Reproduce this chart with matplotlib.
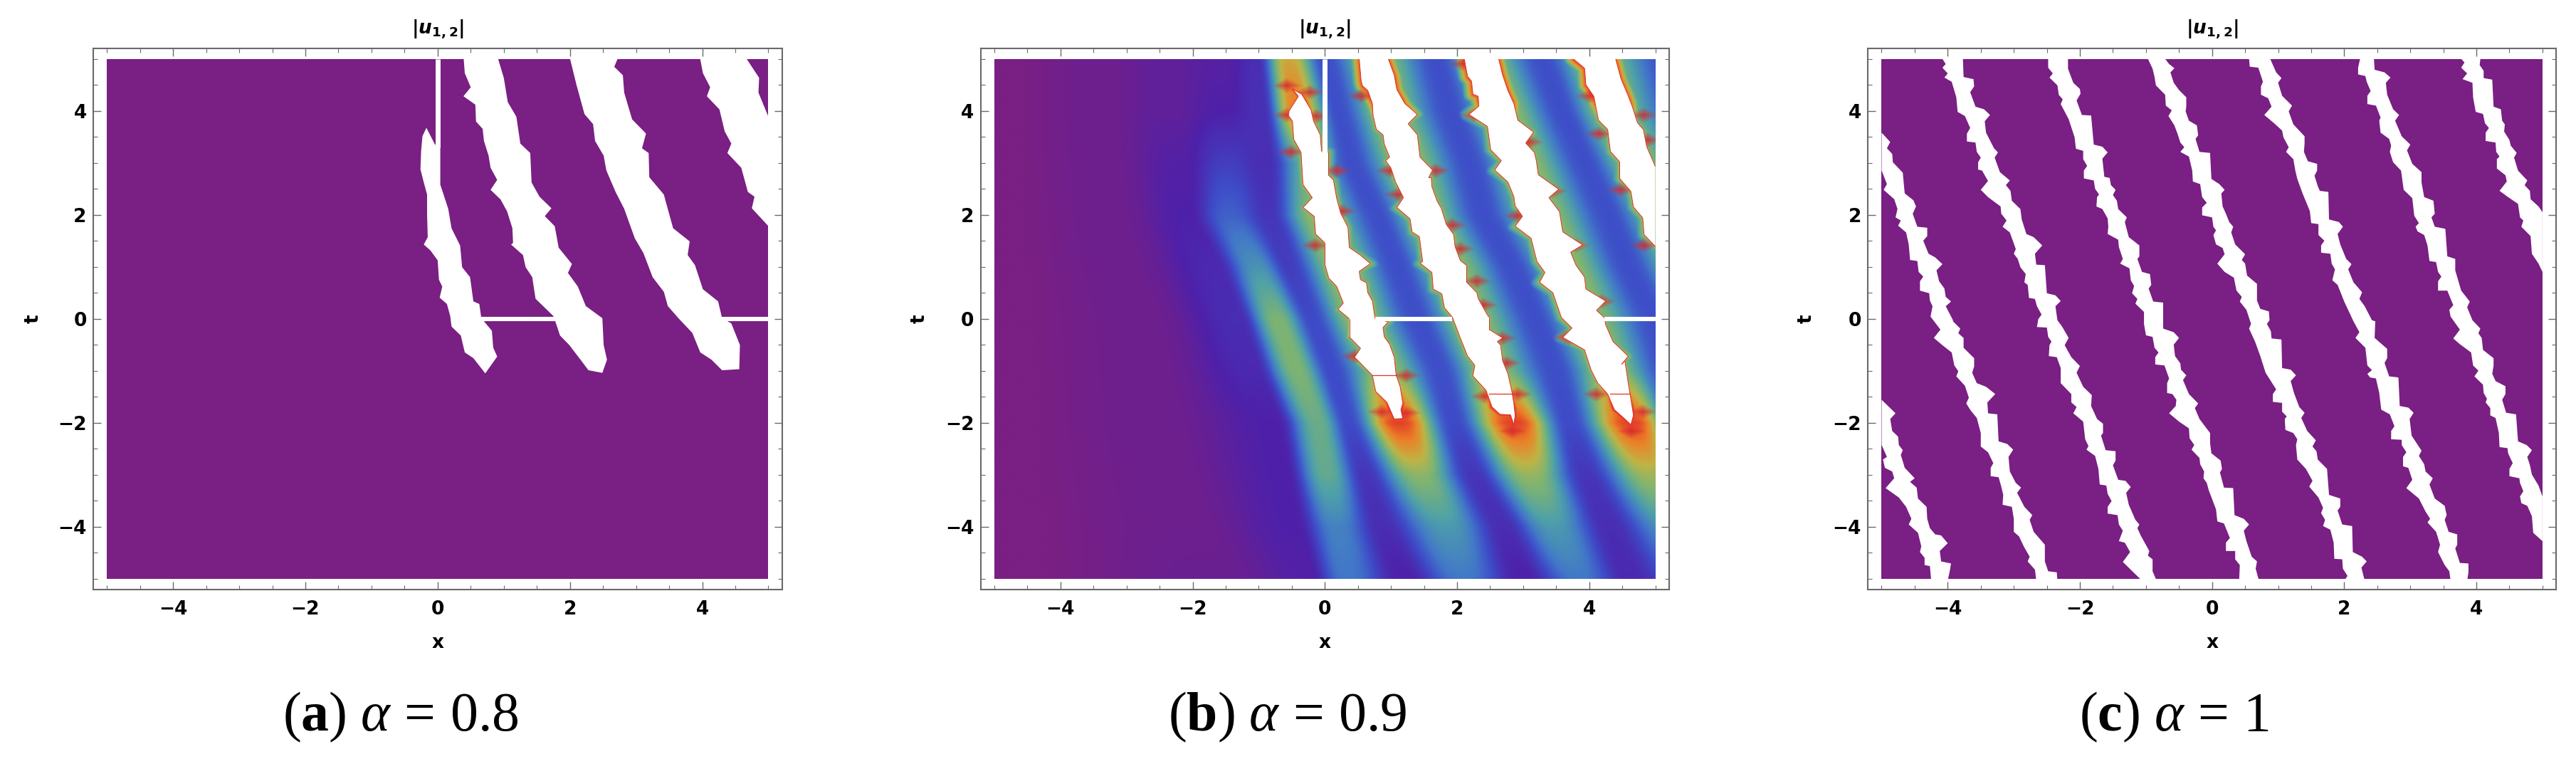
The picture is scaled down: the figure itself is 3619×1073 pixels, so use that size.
import numpy as np
import matplotlib
matplotlib.use("Agg")
import matplotlib.pyplot as plt
from matplotlib.collections import LineCollection
from matplotlib.colors import LinearSegmentedColormap
from matplotlib.patches import Rectangle
from matplotlib.ticker import MultipleLocator

plt.rcParams['mathtext.fontset'] = 'custom'
plt.rcParams['mathtext.rm'] = 'Liberation Serif'
plt.rcParams['mathtext.it'] = 'Liberation Serif:italic'
plt.rcParams['mathtext.bf'] = 'Liberation Serif:bold'

W, H = 3619, 1073
DOMAIN = 5.0
PURPLE = '#7a1f83'
RED = '#e0302a'
TITLE = r'$\mathbf{|}\mathbfit{u}_{\mathbf{1,2}}\mathbf{|}$'
captions = [r'$\mathrm{(}\mathbf{a}\mathrm{)}\ \alpha\,=\,0.8$',
            r'$\mathrm{(}\mathbf{b}\mathrm{)}\ \alpha\,=\,0.9$',
            r'$\mathrm{(}\mathbf{c}\mathrm{)}\ \alpha\,=\,1$']

# ---------- panel a: blown-up regions (x, t) ----------
a1 = [(-.17,3.63),(-.23,3.47),(-.25,3.19),(-.26,2.84),(-.22,2.64),(-.16,2.36),(-.16,1.99),(-.15,1.55),(-.21,1.41),(-.11,1.30),(0,1.11),(.02,.74),(.07,.61),(.03,.40),(.14,.28),(.19,.05),(.21,-.15),(.35,-.32),(.41,-.64),(.54,-.75),(.72,-1.04),(.90,-.72),(.84,-.55),(.82,-.23),(.66,.01),(.63,.28),(.54,.33),(.49,.79),(.37,.98),(.34,1.39),(.21,1.72),(.16,2.09),(.10,2.32),(.04,2.55),(.04,3.29),(-.04,3.31)]
a2 = [(.39,5),(.41,4.67),(.44,4.58),(.50,4.40),(.39,4.23),(.57,4.07),(.58,3.75),(.68,3.61),(.70,3.38),(.77,3.10),(.80,2.87),(.90,2.64),(.80,2.45),(.95,2.27),(1.05,2.04),(1.13,1.72),(1.14,1.44),(1.11,1.41),(1.29,1.21),(1.33,.98),(1.43,.79),(1.48,.38),(1.75,.05),(1.80,-.13),(1.85,-.32),(1.99,-.50),(2.16,-.78),(2.28,-.98),(2.49,-1.03),(2.56,-.78),(2.51,-.50),(2.49,.01),(2.24,.24),(2.12,.61),(1.97,.87),(2.03,1.04),(1.83,1.35),(1.77,1.76),(1.62,1.95),(1.72,2.10),(1.54,2.32),(1.42,2.59),(1.40,3.15),(1.25,3.33),(1.19,3.84),(1.06,4.12),(1.00,4.58),(.90,5)]
a3 = [(1.99,5),(2.10,4.44),(2.22,3.89),(2.35,3.70),(2.38,3.38),(2.51,3.10),(2.55,2.82),(2.69,2.41),(2.82,2.09),(2.98,1.53),(3.11,1.25),(3.25,.79),(3.42,.51),(3.48,.24),(3.64,.01),(3.85,-.27),(3.97,-.64),(4.14,-.78),(4.30,-.98),(4.56,-.96),(4.57,-.50),(4.44,-.09),(4.30,.01),(4.24,.33),(4.01,.56),(3.89,1.02),(3.78,1.21),(3.81,1.47),(3.56,1.72),(3.45,2.22),(3.42,2.36),(3.20,2.69),(3.19,3.15),(3.09,3.24),(3.15,3.52),(2.94,3.79),(2.82,4.30),(2.80,4.63),(2.67,4.79),(2.74,5)]
a4 = [(3.96,5),(4.01,4.67),(4.12,4.40),(4.07,4.23),(4.26,3.98),(4.34,3.56),(4.44,3.33),(4.38,3.15),(4.59,2.87),(4.69,2.41),(4.79,2.32),(4.75,2.10),(5,1.76),(5,3.84),(4.85,4.30),(4.86,4.58),(4.64,5)]
a_t_scale = 1.012
a_vline = (0.0, 3.3, 5.0)
a_hlines = [(.66, 1.78), (4.30, 5.0)]

# ---------- panel b: blown-up regions (x, t) ----------
b1 = [(-.49,4.42),(-.40,4.28),(-.54,4.00),(-.55,3.91),(-.49,3.80),(-.47,3.45),(-.36,3.20),(-.33,2.58),(-.19,2.33),(-.33,2.14),(-.16,1.97),(-.14,1.63),(0,1.46),(0,1.05),(.06,.78),(.18,.62),(.28,.30),(.20,.18),(.37,0),(.37,-.35),(.54,-.57),(.45,-.74),(.72,-1.09),(.77,-1.40),(.94,-1.61),(1.05,-1.93),(1.18,-1.92),(1.15,-1.75),(1.18,-1.63),(1.14,-1.31),(1.08,-1.09),(1.05,-.74),(.98,-.49),(.90,-.35),(.88,-.17),(.96,-.06),(.76,0),(.72,.34),(.65,.50),(.63,.69),(.54,.75),(.52,.91),(.69,1.06),(.53,1.23),(.37,1.37),(.35,1.76),(.24,2.03),(.18,2.31),(.13,2.67),(.05,2.77),(.05,3.22),(-.05,3.22),(-.07,3.54),(-.17,3.80),(-.21,4.02),(-.35,4.32)]
b2 = [(.52,5),(.55,4.57),(.57,4.48),(.65,4.39),(.72,4.14),(.73,3.91),(.78,3.64),(.88,3.54),(.90,3.36),(.98,3.11),(.92,3.04),(1.00,2.90),(1.07,2.63),(1.19,2.33),(1.09,2.14),(1.29,1.92),(1.32,1.67),(1.43,1.58),(1.48,1.10),(1.44,1.07),(1.62,.89),(1.64,.57),(1.77,.48),(1.81,.21),(1.93,.03),(1.96,-.07),(2.05,-.37),(2.16,-.72),(2.27,-.90),(2.24,-1.10),(2.44,-1.38),(2.53,-1.70),(2.65,-1.84),(2.81,-1.85),(2.86,-2.04),(2.88,-1.86),(2.86,-1.63),(2.83,-1.40),(2.77,-1.06),(2.69,-.81),(2.66,-.51),(2.61,-.44),(2.69,-.37),(2.49,-.21),(2.49,.02),(2.46,.07),(2.32,.39),(2.30,.50),(2.14,.71),(2.14,1.03),(2.05,1.12),(1.97,1.39),(1.95,1.62),(1.84,1.81),(1.76,2.13),(1.70,2.26),(1.62,2.54),(1.61,2.72),(1.57,2.71),(1.63,2.86),(1.44,3.11),(1.40,3.54),(1.26,3.75),(1.40,3.93),(1.21,4.14),(1.09,4.41),(1.05,4.69),(.96,5)]
b3 = [(2.11,5),(2.16,4.66),(2.22,4.57),(2.24,4.32),(2.32,4.28),(2.33,4.09),(2.18,3.93),(2.46,3.70),(2.51,3.25),(2.67,3.04),(2.57,2.86),(2.77,2.63),(2.86,2.35),(2.88,2.17),(2.99,1.97),(2.88,1.78),(3.12,1.55),(3.21,1.10),(3.33,.89),(3.25,.70),(3.45,.50),(3.58,.02),(3.74,-.18),(3.60,-.36),(3.93,-.60),(4.03,-.99),(4.13,-1.24),(4.28,-1.45),(4.38,-1.75),(4.54,-1.93),(4.63,-2.04),(4.67,-1.86),(4.63,-1.54),(4.60,-1.31),(4.54,-.81),(4.49,-.88),(4.59,-.72),(4.36,-.44),(4.25,-.12),(4.23,.02),(4.11,.16),(4.25,.34),(3.95,.57),(3.93,.80),(3.80,1.03),(3.72,1.28),(3.90,1.42),(3.60,1.67),(3.55,2.06),(3.39,2.33),(3.54,2.49),(3.23,2.77),(3.20,3.04),(3.17,3.20),(3.04,3.38),(3.16,3.59),(2.92,3.82),(2.86,4.14),(2.77,4.39),(2.69,4.69),(2.63,5)]
b4 = [(3.76,5),(3.93,4.82),(3.95,4.50),(4.07,4.28),(4.14,3.82),(4.28,3.64),(4.32,3.22),(4.46,3.02),(4.46,2.70),(4.63,2.45),(4.67,2.15),(4.81,1.94),(4.83,1.62),(5,1.39),(5,2.93),(4.87,3.31),(4.82,3.64),(4.73,3.77),(4.65,4.09),(4.58,4.32),(4.48,4.62),(4.40,5)]
b_vline = (0.0, 3.2, 5.0)
b_hlines = [(.76, 1.93), (4.23, 5.0)]
b_red_lines = [(.72, 1.08, -1.09), (2.49, 2.84, -1.45), (4.32, 4.61, -1.45)]

# panel b: field rows read across the picture
b_rows_t = [5, 4, 3, 2, 1, 0, -1, -2, -3, -4, -5]
b_knot_x = [
    [-5,-3.4,-2.4,-1.6,-1.05,-.55,0,.75,1.7,2.37,3.3,4.08,5.2],
    [-5,-3.4,-2.4,-1.5,-.95,-.42,.2,.95,1.9,2.7,3.6,4.3,5.4],
    [-5,-3.3,-2.2,-1.5,-.9,-.2,.4,1.25,2.2,3.0,3.95,4.7,5.7],
    [-5,-3.2,-2.1,-1.45,-.85,-.1,.8,1.5,2.4,3.3,4.3,5.1,6],
    [-5,-3,-1.65,-1.02,-.55,.25,1.1,1.9,2.85,3.65,4.6,5.5,6.3],
    [-5,-2.7,-1.3,-.72,-.2,.5,1.4,2.2,3.2,3.95,5,5.9,6.6],
    [-5,-2.6,-1.05,-.42,.1,.9,1.75,2.5,3.5,4.3,5.2,6.1,6.8],
    [-5,-2.5,-.75,-.1,.35,1.12,1.95,2.87,3.7,4.65,5.4,6.3,7],
    [-5,-2.3,-.6,.03,.6,1.43,2.25,3.1,3.95,4.95,5.6,6.4,7.2],
    [-5,-2,-.45,.18,.85,1.85,2.7,3.45,4.3,5.3,6,6.7,7.4],
    [-5,-1.5,-.25,.33,1.2,2.1,3.0,3.85,4.6,5.7,6.3,7,8],
]
b_knot_v = [
    [0,.03,.06,.08,.13,.72,.21,.6,.21,.6,.21,.6,.21],
    [0,.03,.06,.1,.14,.85,.21,.6,.21,.6,.21,.6,.21],
    [0,.03,.09,.17,.13,.5,.21,.6,.21,.6,.21,.6,.21],
    [0,.03,.1,.25,.15,.6,.21,.6,.21,.6,.21,.6,.21],
    [0,.03,.12,.38,.17,.6,.21,.6,.21,.6,.21,.6,.21],
    [0,.03,.13,.55,.2,.6,.21,.6,.21,.6,.21,.6,.21],
    [0,.03,.12,.55,.2,.6,.21,.6,.21,.6,.21,.6,.21],
    [0,.03,.1,.5,.2,.95,.2,.95,.2,.95,.2,.6,.2],
    [0,.03,.1,.48,.15,.58,.15,.6,.15,.62,.2,.5,.2],
    [0,.03,.1,.33,.13,.4,.13,.4,.13,.4,.2,.3,.2],
    [0,.04,.09,.3,.1,.3,.1,.3,.12,.3,.2,.2,.2],
]
b_spikes = [(-.58,4.5),(-.23,4.37),(-.58,3.93),(-.13,3.91),(-.52,3.22),(-.15,1.42),(.55,4.30),(.18,2.86),(.26,2.08),(.98,2.86),(1.11,2.40),(1.93,1.81),(2.05,1.35),(1.68,2.86),(2.26,3.93),(2.09,4.92),(2.30,.73),(2.40,.27),(2.69,-.37),(2.92,1.99),(3.70,-.37),(3.45,2.47),(3.80,1.42),(4.19,.34),(3.09,3.41),(4.48,2.49),(4.83,1.42),(4.83,3.93),(4.89,3.45),(4.01,4.30),(4.15,3.57),(1.23,-1.09),(.86,-1.79),(1.23,-1.81),(3.66,-.35),(.45,-.72),(2.75,-.85),(4.11,-1.45),(4.81,-1.79),(2.84,-2.16),(4.64,-2.16),(2.42,-1.49),(2.92,-1.45)]

cmap_pos = [0, .1, .2, .3, .42, .55, .68, .82, 1]
cmap_col = [(122,31,131),(78,33,170),(62,75,200),(66,120,200),(78,160,170),(125,180,115),(190,180,70),(235,130,40),(225,40,40)]

# ---------- panel c: blown-up regions (x, t) ----------
c1 = [(-5,-1.56),(-4.79,-1.82),(-4.87,-1.93),(-4.84,-2.16),(-4.75,-2.27),(-4.74,-2.43),(-4.68,-2.53),(-4.71,-2.62),(-4.65,-2.87),(-4.50,-3.07),(-4.57,-3.14),(-4.47,-3.25),(-4.45,-3.46),(-4.32,-3.62),(-4.31,-3.85),(-4.27,-4.03),(-4.19,-4.15),(-4.10,-4.17),(-4.00,-4.32),(-4.12,-4.47),(-4.10,-4.67),(-3.95,-4.71),(-3.97,-4.86),(-4.00,-5.04),
      (-4.25,-5.04),(-4.27,-4.76),(-4.35,-4.74),(-4.35,-4.60),(-4.42,-4.49),(-4.40,-4.38),(-4.45,-4.12),(-4.59,-3.96),(-4.55,-3.85),(-4.63,-3.62),(-4.74,-3.44),(-4.94,-3.26),(-4.81,-3.07),(-4.84,-2.94),(-4.95,-2.87),(-4.98,-2.71),(-4.92,-2.66),(-5,-2.43)]
c2 = [(-5,3.58),(-4.87,3.40),(-4.92,3.28),(-4.84,3.17),(-4.83,3.01),(-4.68,2.81),(-4.66,2.53),(-4.65,2.41),(-4.52,2.28),(-4.48,2.16),(-4.53,2.02),(-4.46,1.77),(-4.31,1.75),(-4.31,1.59),(-4.37,1.50),(-4.29,1.25),(-4.19,1.18),(-4.08,1.05),(-4.17,.93),(-4.13,.72),(-4.05,.58),(-4.03,.42),(-3.95,.33),(-4.03,.24),(-3.92,-.03),
      (-3.92,-.05),(-3.81,-.19),(-3.84,-.28),(-3.76,-.37),(-3.76,-.56),(-3.60,-.76),(-3.60,-.92),(-3.63,-1.04),(-3.56,-1.24),(-3.42,-1.31),(-3.28,-1.45),(-3.40,-1.61),(-3.39,-1.82),(-3.25,-1.84),(-3.23,-2.36),(-3.10,-2.41),(-3.01,-2.52),(-3.08,-2.66),(-3.06,-2.94),(-2.97,-3.16),(-2.89,-3.25),(-2.95,-3.35),(-2.84,-3.62),(-2.72,-3.78),(-2.76,-3.87),(-2.70,-4.10),(-2.53,-4.35),(-2.53,-4.67),(-2.48,-4.86),(-2.35,-4.88),(-2.34,-5.04),
      (-2.66,-5.04),(-2.68,-4.83),(-2.79,-4.67),(-2.76,-4.58),(-2.85,-4.38),(-2.92,-4.19),(-3.00,-4.10),(-3.00,-3.85),(-3.03,-3.62),(-3.17,-3.58),(-3.16,-3.39),(-3.19,-3.23),(-3.23,-3.05),(-3.35,-3.03),(-3.35,-2.87),(-3.31,-2.78),(-3.39,-2.57),(-3.50,-2.46),(-3.50,-2.20),(-3.56,-1.91),(-3.65,-1.77),(-3.72,-1.63),(-3.68,-1.52),(-3.74,-1.29),(-3.87,-1.11),(-3.84,-1.01),(-3.90,-.90),(-3.94,-.65),(-4.08,-.51),(-4.21,-.37),(-4.11,-.21),(-4.26,.04),
      (-4.23,.24),(-4.27,.35),(-4.28,.49),(-4.42,.54),(-4.42,.72),(-4.37,.81),(-4.44,.90),(-4.46,1.11),(-4.57,1.13),(-4.59,1.43),(-4.63,1.66),(-4.75,1.79),(-4.71,1.89),(-4.79,1.95),(-4.76,2.11),(-4.81,2.30),(-4.97,2.48),(-4.92,2.59),(-5,2.85)]
c3 = [(-3.77,5),(-3.76,4.65),(-3.61,4.61),(-3.60,4.47),(-3.66,4.36),(-3.58,4.08),(-3.45,4.03),(-3.36,3.92),(-3.44,3.80),(-3.42,3.58),(-3.30,3.28),(-3.24,3.20),(-3.29,3.10),(-3.21,2.82),(-3.06,2.66),(-3.12,2.57),(-3.05,2.46),(-3.03,2.27),(-2.90,2.11),(-2.88,1.91),(-2.81,1.63),(-2.70,1.57),(-2.57,1.41),(-2.68,1.25),(-2.66,1.04),(-2.53,1.03),(-2.50,.49),(-2.37,.45),(-2.29,.34),(-2.37,.24),(-2.34,-.03),
      (-2.27,-.15),(-2.17,-.37),(-2.23,-.51),(-2.13,-.74),(-2.00,-.91),(-2.05,-1.04),(-1.95,-1.31),(-1.82,-1.47),(-1.83,-1.68),(-1.74,-1.93),(-1.65,-2.02),(-1.65,-2.20),(-1.68,-2.25),(-1.61,-2.53),(-1.46,-2.55),(-1.46,-2.73),(-1.50,-2.82),(-1.42,-3.10),(-1.31,-3.12),(-1.23,-3.24),(-1.30,-3.35),(-1.26,-3.58),(-1.16,-3.87),(-1.10,-3.96),(-1.13,-4.03),(-1.08,-4.17),(-.95,-4.47),(-.97,-4.56),(-.90,-4.63),(-.90,-4.86),(-.84,-5.04),
      (-1.06,-5.04),(-1.23,-4.83),(-1.35,-4.68),(-1.24,-4.49),(-1.32,-4.31),(-1.41,-4.28),(-1.35,-4.08),(-1.41,-3.96),(-1.43,-3.78),(-1.58,-3.75),(-1.58,-3.62),(-1.52,-3.51),(-1.58,-3.37),(-1.60,-3.21),(-1.70,-3.19),(-1.72,-2.89),(-1.77,-2.64),(-1.90,-2.52),(-1.87,-2.45),(-1.92,-2.32),(-1.95,-1.98),(-2.10,-1.82),(-2.05,-1.70),(-2.13,-1.61),(-2.13,-1.45),(-2.29,-1.24),(-2.29,-.95),(-2.35,-.74),(-2.47,-.72),(-2.46,-.51),(-2.43,-.44),(-2.48,-.35),(-2.50,-.17),(-2.65,-.16),(-2.63,-.01),
      (-2.58,.08),(-2.65,.24),(-2.68,.38),(-2.77,.40),(-2.79,.65),(-2.84,.70),(-2.82,.86),(-2.90,.99),(-2.94,1.15),(-3.00,1.25),(-2.97,1.34),(-3.06,1.66),(-3.17,1.77),(-3.11,1.89),(-3.19,2.02),(-3.20,2.16),(-3.39,2.34),(-3.50,2.48),(-3.39,2.65),(-3.48,2.85),(-3.54,2.87),(-3.54,3.01),(-3.50,3.10),(-3.56,3.21),(-3.58,3.39),(-3.71,3.41),(-3.71,3.56),(-3.66,3.67),(-3.74,3.90),(-3.85,3.98),(-3.87,4.26),(-3.94,4.56),(-4.05,4.64),(-4.00,4.72),(-4.08,4.83),(-4.03,4.90),(-4.08,5)]
c4 = [(-2.18,5),(-2.18,4.81),(-2.10,4.54),(-2.00,4.42),(-1.99,4.33),(-2.05,4.20),(-1.97,3.92),(-1.83,3.91),(-1.79,3.35),(-1.66,3.31),(-1.58,3.20),(-1.66,3.08),(-1.63,2.73),(-1.55,2.71),(-1.53,2.57),(-1.46,2.48),(-1.50,2.38),(-1.44,2.27),(-1.42,2.11),(-1.29,1.95),(-1.32,1.86),(-1.26,1.57),(-1.10,1.41),(-1.10,1.20),(-1.13,1.15),(-1.06,.90),(-.94,.86),(-.92,.65),(-.96,.58),(-.89,.33),(-.74,.31),(-.74,-.03),
      (-.74,-.19),(-.58,-.26),(-.50,-.37),(-.58,-.50),(-.56,-.72),(-.48,-.86),(-.47,-.98),(-.39,-1.09),(-.44,-1.18),(-.35,-1.45),(-.21,-1.63),(-.26,-1.72),(-.19,-1.93),(-.03,-2.20),(-.03,-2.39),(-.01,-2.59),(.13,-2.73),(.15,-2.89),(.12,-2.96),(.18,-3.25),(.32,-3.26),(.34,-3.78),(.48,-3.85),(.56,-3.96),(.48,-4.08),(.52,-4.28),(.60,-4.58),(.68,-4.67),(.66,-4.81),(.71,-5.04),
      (.41,-5.04),(.42,-4.74),(.35,-4.63),(.35,-4.47),(.21,-4.47),(.21,-4.31),(.27,-4.22),(.18,-3.94),(.08,-3.90),(.06,-3.67),(-.05,-3.30),(-.08,-3.16),(-.13,-3.07),(-.12,-2.94),(-.18,-2.80),(-.19,-2.68),(-.31,-2.52),(-.27,-2.43),(-.34,-2.30),(-.35,-2.11),(-.50,-1.98),(-.65,-1.82),(-.55,-1.68),(-.54,-1.56),(-.60,-1.45),(-.68,-1.43),(-.68,-1.24),(-.65,-1.15),(-.72,-.90),(-.86,-.88),(-.86,-.74),(-.81,-.65),(-.87,-.56),(-.90,-.35),(-1.00,-.32),(-1.03,-.10),
      (-1.03,.13),(-1.16,.29),(-1.13,.38),(-1.21,.49),(-1.18,.63),(-1.23,.74),(-1.25,.97),(-1.39,1.06),(-1.35,1.15),(-1.41,1.38),(-1.42,1.52),(-1.58,1.63),(-1.57,1.77),(-1.58,1.93),(-1.66,2.11),(-1.75,2.16),(-1.74,2.34),(-1.71,2.39),(-1.77,2.50),(-1.79,2.66),(-1.94,2.70),(-1.94,2.85),(-1.89,2.94),(-1.95,3.07),(-1.95,3.23),(-2.06,3.27),(-2.08,3.49),(-2.17,3.84),(-2.29,4.13),(-2.26,4.22),(-2.32,4.31),(-2.34,4.49),(-2.46,4.64),(-2.41,4.72),(-2.48,4.83),(-2.48,5)]
c5 = [(-.71,5),(-.65,4.90),(-.57,4.82),(-.63,4.74),(-.58,4.54),(-.50,4.40),(-.39,4.26),(-.39,4.08),(-.40,3.99),(-.35,3.81),(-.23,3.72),(-.21,3.53),(-.25,3.46),(-.19,3.21),(-.03,3.19),(-.01,2.69),(.11,2.59),(.19,2.48),(.14,2.41),(.16,2.16),(.21,2.02),(.26,1.86),(.32,1.77),(.29,1.66),(.35,1.43),(.50,1.24),(.45,1.13),(.50,1.06),(.53,.83),(.68,.67),(.68,.35),(.73,.19),(.86,.14),(.87,-.03),
      (.83,-.10),(.89,-.24),(.90,-.38),(1.05,-.40),(1.06,-.95),(1.19,-.98),(1.27,-1.09),(1.19,-1.20),(1.24,-1.43),(1.32,-1.70),(1.40,-1.81),(1.35,-1.91),(1.44,-2.16),(1.57,-2.34),(1.52,-2.46),(1.58,-2.55),(1.60,-2.71),(1.74,-2.89),(1.77,-3.39),(1.94,-3.46),(1.94,-3.62),(1.90,-3.69),(1.97,-3.96),(2.12,-3.99),(2.13,-4.49),(2.27,-4.58),(2.34,-4.67),(2.26,-4.79),(2.31,-5.04),
      (2.00,-5.04),(2.05,-4.95),(1.98,-4.81),(1.97,-4.63),(1.85,-4.62),(1.84,-4.31),(1.79,-4.06),(1.68,-3.99),(1.71,-3.87),(1.65,-3.74),(1.68,-3.64),(1.61,-3.44),(1.47,-3.23),(1.52,-3.12),(1.42,-2.89),(1.29,-2.71),(1.27,-2.43),(1.29,-2.32),(1.23,-2.20),(1.11,-2.14),(1.10,-1.93),(1.13,-1.88),(1.06,-1.79),(1.06,-1.62),(.92,-1.60),(.92,-1.45),(.97,-1.36),(.81,-1.04),(.73,-.72),(.65,-.44),(.56,-.19),(.59,-.10),
      (.52,.17),(.42,.33),(.45,.42),(.37,.54),(.33,.79),(.19,.90),(.08,1.06),(.19,1.24),(.16,1.36),(.06,1.43),(.02,1.61),(.06,1.70),(.02,1.77),(0,1.95),(-.15,1.99),(-.15,2.14),(-.08,2.23),(-.15,2.34),(-.18,2.59),(-.29,2.64),(-.30,2.85),(-.35,3.12),(-.48,3.21),(-.42,3.30),(-.48,3.39),(-.52,3.55),(-.57,3.72),(-.66,3.90),(-.61,4.01),(-.70,4.10),(-.71,4.31),(-.85,4.49),(-.87,4.65),(-.90,4.81),(-.97,5)]
c6 = [(.88,5),(.97,4.74),(1.05,4.63),(1.00,4.54),(1.06,4.29),(1.21,4.10),(1.16,3.99),(1.23,3.74),(1.40,3.51),(1.40,3.37),(1.39,3.21),(1.45,3.03),(1.59,2.98),(1.59,2.85),(1.55,2.75),(1.60,2.55),(1.63,2.46),(1.76,2.44),(1.77,1.91),(1.92,1.86),(1.98,1.77),(1.90,1.63),(1.94,1.43),(2.03,1.15),(2.11,1.05),(2.06,.95),(2.14,.70),(2.27,.51),(2.23,.38),(2.31,.24),(2.42,-.03),
      (2.47,-.05),(2.46,-.37),(2.65,-.58),(2.65,-.76),(2.61,-.85),(2.68,-1.11),(2.82,-1.13),(2.84,-1.68),(2.97,-1.71),(3.05,-1.81),(2.99,-1.93),(3.02,-2.25),(3.17,-2.54),(3.13,-2.64),(3.21,-2.80),(3.23,-2.94),(3.34,-3.07),(3.29,-3.19),(3.37,-3.46),(3.52,-3.60),(3.55,-3.78),(3.52,-3.87),(3.58,-4.10),(3.71,-4.15),(3.71,-4.35),(3.68,-4.42),(3.75,-4.70),(3.88,-4.71),(3.88,-4.88),(3.86,-5.04),
      (3.61,-5.04),(3.59,-4.86),(3.52,-4.74),(3.42,-4.49),(3.45,-4.35),(3.39,-4.10),(3.26,-3.92),(3.30,-3.85),(3.23,-3.71),(3.13,-3.46),(2.94,-3.26),(3.03,-3.10),(2.97,-2.87),(2.89,-2.84),(2.89,-2.66),(2.94,-2.57),(2.87,-2.43),(2.87,-2.33),(2.71,-2.32),(2.71,-2.16),(2.76,-2.07),(2.69,-1.84),(2.56,-1.75),(2.53,-1.43),(2.48,-1.15),(2.39,-1.13),(2.35,-1.06),(2.42,-.99),(2.35,-.90),(2.32,-.56),(2.17,-.37),(2.23,-.26),(2.14,-.05),
      (2.00,.33),(1.90,.65),(1.82,.74),(1.86,.95),(1.81,1.06),(1.79,1.25),(1.65,1.27),(1.65,1.41),(1.70,1.50),(1.61,1.61),(1.61,1.82),(1.50,1.84),(1.48,2.07),(1.37,2.41),(1.29,2.69),(1.26,2.85),(1.23,3.07),(1.12,3.21),(1.16,3.30),(1.08,3.49),(1.06,3.62),(.94,3.76),(.79,3.92),(.90,4.08),(.85,4.24),(.74,4.31),(.74,4.47),(.77,4.56),(.70,4.83),(.57,4.85),(.56,5)]
c7 = [(2.45,5),(2.46,4.79),(2.61,4.74),(2.70,4.64),(2.63,4.54),(2.65,4.31),(2.74,4.03),(2.83,3.92),(2.77,3.81),(2.87,3.51),(3.00,3.35),(2.95,3.24),(3.03,2.98),(3.17,2.82),(3.17,2.62),(3.21,2.34),(3.35,2.27),(3.37,2.02),(3.32,1.95),(3.37,1.77),(3.53,1.73),(3.56,1.20),(3.68,1.15),(3.68,.93),(3.77,.54),(3.90,.33),(3.86,.22),(3.94,-.03),
      (4.06,-.19),(4.03,-.28),(4.08,-.37),(4.10,-.60),(4.26,-.76),(4.26,-.90),(4.24,-1.06),(4.29,-1.20),(4.44,-1.30),(4.44,-1.45),(4.39,-1.56),(4.45,-1.81),(4.60,-1.84),(4.63,-2.36),(4.76,-2.43),(4.84,-2.53),(4.77,-2.66),(4.81,-2.82),(4.84,-3.00),(4.94,-3.21),(5,-3.42),(5,-4.28),
      (4.86,-4.12),(4.84,-3.80),(4.77,-3.60),(4.68,-3.55),(4.66,-3.42),(4.71,-3.32),(4.66,-3.16),(4.65,-3.07),(4.50,-3.03),(4.50,-2.89),(4.55,-2.78),(4.48,-2.59),(4.47,-2.49),(4.35,-2.47),(4.34,-2.20),(4.29,-1.91),(4.21,-1.86),(4.21,-1.72),(4.14,-1.61),(4.16,-1.54),(4.11,-1.43),(4.10,-1.27),(3.97,-1.11),(4.03,-1.00),(3.95,-.90),(3.92,-.65),(3.75,-.49),(3.65,-.38),(3.75,-.21),(3.61,.04),
      (3.59,.17),(3.65,.26),(3.56,.54),(3.42,.54),(3.42,.72),(3.47,.81),(3.42,.90),(3.39,1.09),(3.29,1.11),(3.26,1.41),(3.21,1.61),(3.11,1.68),(3.08,1.77),(3.13,1.84),(3.06,1.98),(3.03,2.32),(2.90,2.48),(2.86,2.85),(2.74,3.01),(2.69,3.21),(2.71,3.33),(2.68,3.46),(2.55,3.58),(2.53,3.81),(2.55,3.87),(2.48,4.10),(2.35,4.13),(2.35,4.29),(2.40,4.38),(2.34,4.56),(2.32,4.67),(2.21,4.70),(2.21,4.83),(2.24,5)]
c8 = [(4.06,5),(4.05,4.88),(4.11,4.77),(4.11,4.63),(4.24,4.60),(4.26,4.08),(4.37,4.03),(4.39,3.81),(4.43,3.74),(4.42,3.60),(4.50,3.44),(4.52,3.33),(4.61,3.19),(4.57,3.10),(4.63,2.85),(4.77,2.66),(4.73,2.57),(4.81,2.46),(4.82,2.30),(4.94,2.16),(5,2.05),(5,.90),(4.94,1.06),(4.84,1.25),(4.82,1.59),(4.68,1.77),(4.71,1.89),(4.66,1.95),(4.63,2.21),(4.48,2.34),(4.35,2.46),(4.46,2.64),(4.44,2.76),(4.31,2.89),(4.31,3.07),(4.35,3.12),(4.30,3.21),(4.29,3.39),(4.14,3.42),(4.14,3.58),(4.19,3.67),(4.13,3.76),(4.10,3.94),(3.99,3.98),(3.95,4.26),(3.94,4.54),(3.79,4.61),(3.86,4.72),(3.77,4.83),(3.82,4.93),(3.77,5)]

frames_px = [(130.7, 1099.0), (1377.5, 2345.0), (2624.0, 3591.4)]
frame_top, frame_bottom = 67.7, 827.5
caption_x_px = [563, 1809, 3055]
caption_y_px = 1007
tlabel_offset_px = [84, 85.5, 86.4]


def make_axes(i):
    left, right = frames_px[i]
    ax = fig.add_axes([left / W, 1 - frame_bottom / H, (right - left) / W, (frame_bottom - frame_top) / H])
    ax.set_xlim(-5.21, 5.21)
    ax.set_ylim(-5.205, 5.205)
    for s in ax.spines.values():
        s.set_color('#6a6a6a')
        s.set_linewidth(1.5)
    ax.xaxis.set_major_locator(MultipleLocator(2))
    ax.xaxis.set_minor_locator(MultipleLocator(.5))
    ax.yaxis.set_major_locator(MultipleLocator(2))
    ax.yaxis.set_minor_locator(MultipleLocator(.5))
    ax.tick_params(which='both', direction='in', top=True, right=True, color='#6a6a6a')
    ax.tick_params(which='major', length=8, width=1.0, labelsize=19, pad=11)
    ax.tick_params(which='minor', length=4, width=.8)
    ax.tick_params(axis='y', which='major', pad=6.5)
    for lab in ax.get_xticklabels() + ax.get_yticklabels():
        lab.set_fontweight('bold')
    ax.set_xlabel('x', fontsize=19, fontweight='bold', va='center')
    ax.xaxis.set_label_coords(.5, -.099)
    ax.set_ylabel('t', fontsize=19, fontweight='bold', va='center', rotation=90)
    ax.yaxis.set_label_coords(-tlabel_offset_px[i] / (right - left), .5)
    ax.text(.5, 1.035, TITLE, transform=ax.transAxes, ha='center', va='center', fontsize=19, math_fontfamily='dejavusans')
    fig.text(caption_x_px[i] / W, 1 - caption_y_px / H, captions[i], ha='center', va='center', fontsize=56)
    return ax


def domain_clip(ax):
    return Rectangle((-DOMAIN, -DOMAIN), 2 * DOMAIN, 2 * DOMAIN, transform=ax.transData)


def draw_regions(ax, regions, t_scale=1.0, outline=False):
    clip = domain_clip(ax)
    for reg in regions:
        pts = np.array(reg, float)
        pts[:, 1] *= t_scale
        patch = ax.fill(pts[:, 0], pts[:, 1], color='white', lw=0, zorder=3)[0]
        patch.set_clip_path(clip)
        if outline:
            q = np.roll(pts, -1, axis=0)
            segs = [[p, r] for p, r in zip(pts, q)
                    if not (abs(p[0]) >= DOMAIN and abs(r[0]) >= DOMAIN)
                    and not (abs(p[1]) >= DOMAIN and abs(r[1]) >= DOMAIN)]
            lc = LineCollection(segs, colors=RED, linewidths=.7, zorder=4)
            ax.add_collection(lc)
            lc.set_clip_path(clip)


def white_lines(ax, vline, hlines):
    ax.plot([vline[0], vline[0]], [vline[1], vline[2]], color='white', lw=5, solid_capstyle='butt', zorder=5)
    for x0, x1 in hlines:
        ax.plot([x0, x1], [0, 0], color='white', lw=4.4, solid_capstyle='butt', zorder=5)


def field_b(regions):
    xs = np.linspace(-5, 5, 621)
    ts = np.linspace(5, -5, 521)
    kx = np.array(b_knot_x, float)
    kv = np.array(b_knot_v, float)
    rt = np.array(b_rows_t, float)[::-1]
    base = np.zeros((ts.size, xs.size))
    idx = np.arange(kx.shape[1])
    for i, t in enumerate(ts):
        rx = np.array([np.interp(t, rt, kx[::-1, k]) for k in idx])
        rv = np.array([np.interp(t, rt, kv[::-1, k]) for k in idx])
        u = np.interp(xs, rx, idx)
        lo = np.minimum(np.floor(u).astype(int), idx[-1] - 1)
        f = u - lo
        f = f ** 3 * (10 - 15 * f + 6 * f * f)
        base[i] = rv[lo] * (1 - f) + rv[lo + 1] * f
    X, T = np.meshgrid(xs, ts)
    dist = np.full(X.shape, 9.0)
    for reg in regions:
        p = np.array(reg, float)
        q = np.roll(p, -1, axis=0)
        for a, b in zip(p, q):
            if (abs(a[0]) >= DOMAIN and abs(b[0]) >= DOMAIN) or (abs(a[1]) >= DOMAIN and abs(b[1]) >= DOMAIN):
                continue
            d = b - a
            s = np.clip(((X - a[0]) * d[0] + (T - a[1]) * d[1]) / max(d @ d, 1e-9), 0, 1)
            dist = np.minimum(dist, np.hypot(X - a[0] - s * d[0], T - a[1] - s * d[1]))
    peak = .62 + .38 * np.clip((-1.2 - T) / .5, 0, 1) + .3 * np.clip((T - 3.9) / .3, 0, 1)
    edge = peak * (1 - dist / .23)
    val = np.clip(np.maximum(base, edge), 0, 1)
    cmap = LinearSegmentedColormap.from_list('b', [(p, tuple(c / 255 for c in col)) for p, col in zip(cmap_pos, cmap_col)])
    rgb = cmap(val)[..., :3]
    alpha = np.zeros(X.shape)
    for sx, st in b_spikes:
        alpha = np.maximum(alpha, 1 - np.abs(X - sx) / .24 - np.abs(T - st) / .16)
    alpha = np.clip(alpha, 0, 1)[..., None] * .9
    red = np.array([215, 38, 48]) / 255
    return rgb * (1 - alpha) + red * alpha


fig = plt.figure(figsize=(W / 100, H / 100), dpi=100, facecolor='white')

ax = make_axes(0)
ax.add_patch(Rectangle((-DOMAIN, -DOMAIN), 2 * DOMAIN, 2 * DOMAIN, color=PURPLE, lw=0, zorder=1))
draw_regions(ax, [a1, a2, a3, a4], a_t_scale)
white_lines(ax, a_vline, a_hlines)

ax = make_axes(1)
regions_b = [b1, b2, b3, b4]
ax.imshow(field_b(regions_b), extent=[-DOMAIN, DOMAIN, -DOMAIN, DOMAIN], aspect='auto', interpolation='bilinear', zorder=1)
ax.set_xlim(-5.21, 5.21)
ax.set_ylim(-5.205, 5.205)
draw_regions(ax, regions_b, outline=True)
white_lines(ax, b_vline, b_hlines)
for x0, x1, t in b_red_lines:
    ax.plot([x0, x1], [t, t], color=RED, lw=.9, zorder=6)

ax = make_axes(2)
ax.add_patch(Rectangle((-DOMAIN, -DOMAIN), 2 * DOMAIN, 2 * DOMAIN, color=PURPLE, lw=0, zorder=1))
draw_regions(ax, [c1, c2, c3, c4, c5, c6, c7, c8])

fig.savefig('out.png', dpi=100, facecolor='white')
